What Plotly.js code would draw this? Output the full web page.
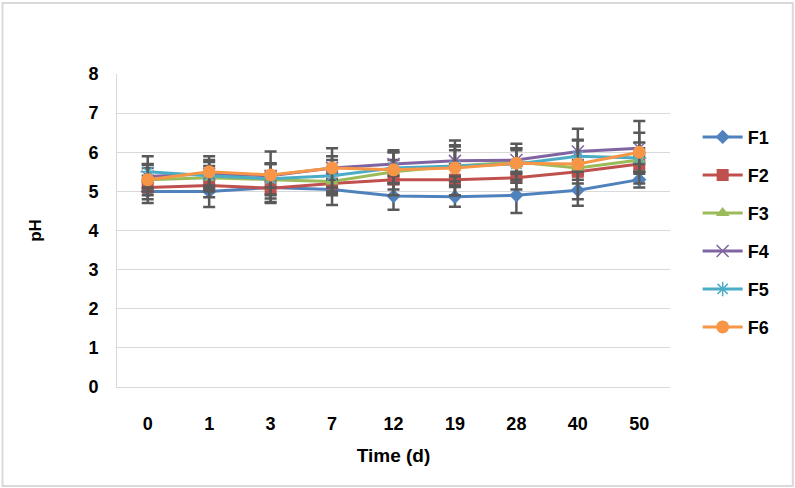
<!DOCTYPE html>
<html>
<head>
<meta charset="utf-8">
<script src="https://cdn.plot.ly/plotly-3.0.1.min.js"></script>
<style>html,body{margin:0;padding:0;background:#fff;}#chart{width:795px;height:488px;}</style>
</head>
<body>
<div id="chart"></div>
<script>
var categories = ['0', '1', '3', '7', '12', '19', '28', '40', '50'];
var seriesNames = ['F1', 'F2', 'F3', 'F4', 'F5', 'F6'];
var F1 = [5.00, 5.00, 5.10, 5.05, 4.88, 4.86, 4.90, 5.03, 5.30];
var F2 = [5.10, 5.15, 5.08, 5.20, 5.30, 5.30, 5.35, 5.50, 5.70];
var F3 = [5.30, 5.35, 5.30, 5.25, 5.50, 5.65, 5.75, 5.60, 5.80];
var F4 = [5.38, 5.45, 5.40, 5.60, 5.70, 5.78, 5.80, 6.02, 6.10];
var F5 = [5.50, 5.40, 5.32, 5.40, 5.60, 5.65, 5.70, 5.90, 5.85];
var F6 = [5.30, 5.50, 5.42, 5.60, 5.55, 5.60, 5.72, 5.70, 6.00];
var E1 = [0.30, 0.40, 0.40, 0.40, 0.35, 0.25, 0.45, 0.40, 0.20];
var E2 = [0.30, 0.30, 0.35, 0.30, 0.40, 0.40, 0.30, 0.30, 0.20];
var E3 = [0.30, 0.30, 0.40, 0.30, 0.30, 0.40, 0.30, 0.30, 0.30];
var E4 = [0.30, 0.30, 0.30, 0.30, 0.30, 0.40, 0.30, 0.30, 0.40];
var E5 = [0.40, 0.40, 0.40, 0.40, 0.40, 0.50, 0.40, 0.40, 0.40];
var E6 = [0.40, 0.40, 0.60, 0.50, 0.50, 0.70, 0.50, 0.90, 0.80];

var values = [F1, F2, F3, F4, F5, F6];
var errors = [E1, E2, E3, E4, E5, E6];
var colors = ['#4F81BD', '#C0504D', '#9BBB59', '#8064A2', '#4BACC6', '#F79646'];
var symbols = ['diamond', 'square', 'triangle-up', 'x-thin-open', 'asterisk-open', 'circle'];
var sizes = [11, 12, 12, 12, 12, 13];

var traces = seriesNames.map(function (name, i) {
  return {
    type: 'scatter',
    mode: 'lines+markers',
    name: name,
    legendgroup: 'g' + i,
    x: categories,
    y: values[i],
    line: {color: colors[i], width: 3},
    marker: {symbol: symbols[i], size: sizes[i], color: colors[i], line: {color: colors[i], width: (i === 3 || i === 4) ? 1.5 : 0}},
    error_y: {type: 'data', array: errors[i], visible: true, color: '#595959', thickness: 2.5, width: 6}
  };
});

var fam = '"Liberation Sans", Arial, sans-serif';
var layout = {
  width: 795, height: 488,
  margin: {l: 117, r: 125, t: 74, b: 101},
  paper_bgcolor: '#fff', plot_bgcolor: '#fff',
  font: {family: fam, color: '#000'},
  showlegend: true,
  legend: {
    x: 1.05, y: 0.857, xanchor: 'left', yanchor: 'top',
    traceorder: 'grouped', tracegroupgap: 11.6,
    font: {family: fam, size: 18, color: '#000', weight: 'bold'},
    itemwidth: 40
  },
  xaxis: {
    type: 'category', range: [-0.5, 8.5],
    showgrid: false, showline: true, linecolor: '#D9D9D9', linewidth: 1,
    ticks: 'outside', ticklen: 20, tickcolor: 'rgba(0,0,0,0)',
    tickfont: {family: fam, size: 18, color: '#000', weight: 'bold'},
    title: {text: 'Time (d)', font: {family: fam, size: 19, color: '#000', weight: 'bold'}, standoff: 16}
  },
  yaxis: {
    range: [0, 8], dtick: 1,
    showgrid: true, gridcolor: '#D9D9D9', gridwidth: 1,
    zeroline: false,
    showline: true, linecolor: '#D9D9D9', linewidth: 1,
    ticks: 'outside', ticklen: 14, tickcolor: 'rgba(0,0,0,0)',
    tickfont: {family: fam, size: 18, color: '#000', weight: 'bold'},
    title: {text: 'pH', font: {family: fam, size: 17, color: '#000', weight: 'bold'}, standoff: 42}
  },
  shapes: [{
    type: 'rect', xref: 'paper', yref: 'paper',
    x0: -0.207, x1: 1.222, y0: -0.316, y1: 1.227,
    line: {color: '#D9D9D9', width: 2}, fillcolor: 'rgba(0,0,0,0)'
  }]
};

Plotly.newPlot('chart', traces, layout, {displayModeBar: false, staticPlot: true});
</script>
</body>
</html>
